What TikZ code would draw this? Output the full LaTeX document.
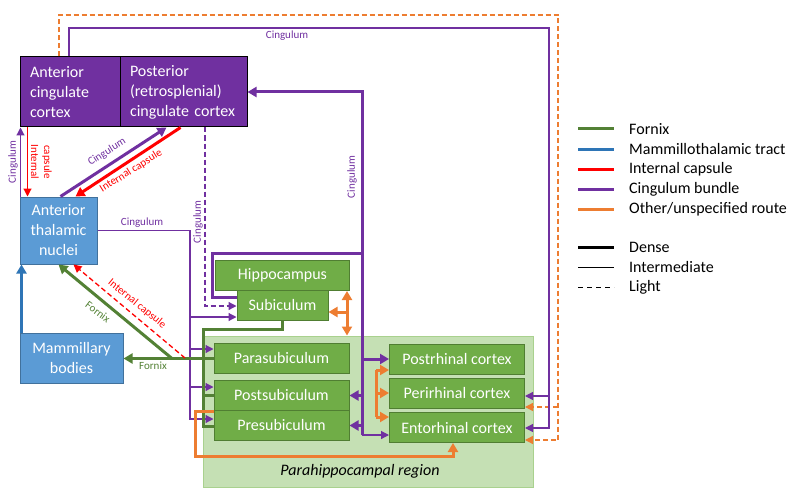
\documentclass[tikz,border=0pt]{standalone}
\usepackage{fontspec}
\setmainfont{Carlito}
\usetikzlibrary{arrows.meta}
\definecolor{cpurple}{HTML}{7030A0}
\definecolor{cblue}{HTML}{5B9BD5}
\definecolor{cblueborder}{HTML}{41719C}
\definecolor{cblueline}{HTML}{2E75B6}
\definecolor{cgreen}{HTML}{70AD47}
\definecolor{cgreenborder}{HTML}{507E32}
\definecolor{cgreenline}{HTML}{538135}
\definecolor{cred}{HTML}{FF0000}
\definecolor{corange}{HTML}{ED7D31}
\definecolor{cregion}{HTML}{C5E0B4}
\definecolor{cregionborder}{HTML}{A9D18E}

\begin{document}
\begin{tikzpicture}
	[x=1pt, y=-1pt,
	box/.style={draw, text=white, font=\fontsize{16}{20}\selectfont, inner sep=0pt, align=center, line width=1pt},
	purplebox/.style={box, fill=cpurple, draw=black, align=left, inner xsep=10pt, minimum height=70pt},
	bluebox/.style={box, fill=cblue, draw=cblueborder},
	greenbox/.style={box, fill=cgreen, draw=cgreenborder, minimum height=30pt},
	dense/.style={line width=3pt},
	medium/.style={line width=1.2pt},
	light/.style={line width=1.3pt, dash pattern=on 5pt off 3pt},
	arrowhd/.style={-{Triangle[length=8pt,width=8pt]}},
	bigarrowhd/.style={-{Triangle[length=9pt,width=10pt]}},
	lbl/.style={font=\fontsize{11}{13}\selectfont, inner sep=1pt},
	keytext/.style={anchor=west, font=\fontsize{16}{20}\selectfont, inner sep=0pt}]
	\useasboundingbox (0,0) rectangle (800,500);
	\node (phr) [fill=cregion, draw=cregionborder, line width=1pt, minimum width=330pt, minimum height=151pt] at (368,411.5) {};
	\node (phrlbl) at (360,471) {\fontsize{16}{20}\selectfont\itshape Parahippocampal region};
	\node (acc) [purplebox, text width=80pt] at (70,92) {Anterior\\cingulate\\cortex};
	\node (pcc) [purplebox, text width=107pt] at (183.5,92) {Posterior\\(retrosplenial)\\cingulate cortex};
	\node (atn) [bluebox, minimum width=77pt, minimum height=67pt] at (58.5,230.5) {Anterior\\thalamic\\nuclei};
	\node (mb) [bluebox, minimum width=103pt, minimum height=50pt] at (71.5,358) {Mammillary\\bodies};
	\node (hip) [greenbox, minimum width=134pt] at (282.5,275.5) {Hippocampus};
	\node (sub) [greenbox, minimum width=91pt] at (282.5,305) {Subiculum};
	\node (para) [greenbox, minimum width=135pt] at (281.5,358.5) {Parasubiculum};
	\node (post) [greenbox, minimum width=135pt] at (281.5,395.5) {Postsubiculum};
	\node (pre) [greenbox, minimum width=135pt] at (281.5,425.5) {Presubiculum};
	\node (pos) [greenbox, minimum width=135pt] at (457,359) {Postrhinal cortex};
	\node (peri) [greenbox, minimum width=135pt] at (457,393) {Perirhinal cortex};
	\node (ent) [greenbox, minimum width=135pt] at (457,427.5) {Entorhinal cortex};

	\coordinate (oTL) at (59,15);
	\coordinate (oTR) at (558,15);
	\coordinate (oPeri) at (558,407);
	\coordinate (oEnt) at (558,440);
	\draw [corange, light, arrowhd] (acc.north -| oTL) -- (oTL) -- (oTR) -- (oEnt) -- (oEnt -| ent.east);
	\draw [corange, light, arrowhd] (oPeri) -- (oPeri -| peri.east);
	\coordinate (cTL) at (69,28);
	\coordinate (cTR) at (549,28);
	\coordinate (cPeri) at (549,396);
	\coordinate (cEnt) at (549,428);
	\draw [cpurple, medium, arrowhd] (acc.north -| cTL) -- (cTL) -- (cTR) -- (cEnt) -- (cEnt -| ent.east);
	\draw [cpurple, medium, arrowhd] (cPeri) -- (cPeri -| peri.east);
	\node (lblTop) [lbl, text=cpurple] at (287,36) {Cingulum};

	\coordinate (sTop) at (362,92);
	\coordinate (sMid) at (362,253);
	\coordinate (sHip) at (212,253);
	\coordinate (sHipB) at (212,297);
	\coordinate (sBot) at (362,435);
	\draw [cpurple, dense, bigarrowhd] (sHipB -| sub.west) -- (sHipB) -- (sHip) -- (sMid) -- (sTop) -- (sTop -| pcc.east);
	\draw [cpurple, dense] (sMid) -- (sBot);
	\draw [cpurple, medium, arrowhd] (sBot) -- (sBot -| ent.west);
	\draw [cpurple, dense, bigarrowhd] (sBot |- pos.west) -- (pos.west);
	\draw [cpurple, dense, bigarrowhd] (sBot |- post.east) -- (post.east);
	\draw [cpurple, dense, bigarrowhd] (sBot |- pre.east) -- (pre.east);
	\node (lblSub) [lbl, text=cpurple, rotate=90] at (352,177) {Cingulum};

	\coordinate (dA) at (205,306);
	\draw [cpurple, light, arrowhd] (pcc.south -| dA) -- (dA) -- (dA -| sub.west);
	\node (lblDash) [lbl, text=cpurple, rotate=90] at (198,222) {Cingulum};

	\coordinate (tSub) at (190,317);
	\coordinate (tPara) at (190,349);
	\coordinate (tPost) at (190,387);
	\coordinate (tPre) at (190,419);
	\draw [cpurple, medium, arrowhd] (atn.east) -- (atn.east -| tSub) -- (tSub) -- (tSub -| sub.west);
	\draw [cpurple, medium, arrowhd] (tSub) -- (tPre) -- (tPre -| pre.west);
	\draw [cpurple, medium, arrowhd] (tPara) -- (tPara -| para.west);
	\draw [cpurple, medium, arrowhd] (tPost) -- (tPost -| post.west);
	\node (lblAtn) [lbl, text=cpurple] at (142,223) {Cingulum};

	\draw [cpurple, medium, arrowhd] ([xshift=1pt]atn.north west) -- ([xshift=1pt]acc.south west);
	\draw [cred, medium, arrowhd] ([xshift=8pt]acc.south west) -- ([xshift=8pt]atn.north west);
	\node (lblCl) [lbl, text=cpurple, rotate=90] at (13,162) {Cingulum};
	\node (lblIc1) [lbl, text=cred, rotate=-90] at (35,162) {Internal};
	\node (lblIc2) [lbl, text=cred, rotate=-90] at (47,162) {capsule};

	\draw [cpurple, dense, bigarrowhd] ([xshift=2pt]atn.north) -- ([xshift=-17pt]pcc.south);
	\draw [cred, dense, bigarrowhd] ([xshift=-3pt]pcc.south) -- ([xshift=17pt]atn.north);
	\node (lblAp) [lbl, text=cpurple, rotate=32] at (107,152) {Cingulum};
	\node (lblAr) [lbl, text=cred, rotate=32] at (131,171) {Internal capsule};

	\draw [cblueline, dense, bigarrowhd] ([xshift=2pt]mb.north west) -- ([xshift=2pt]atn.south west);

	\coordinate (fB) at (203,329);
	\coordinate (fC) at (203,426);
	\coordinate (fJ) at (172,358.5);
	\draw [cgreenline, dense] (sub.south) -- (sub.south |- fB) -- (fB) -- (fC) -- (fC -| pre.west);
	\draw [cgreenline, dense] (fB |- post.west) -- (post.west);
	\draw [cgreenline, dense, bigarrowhd] (para.west) -- (fJ) -- (fJ -| mb.east);
	\draw [cgreenline, dense, bigarrowhd] (fJ) -- (atn.south);
	\node (lblF1) [lbl, text=cgreenline, rotate=-37] at (98,312) {Fornix};
	\node (lblF2) [lbl, text=cgreenline] at (153,366) {Fornix};

	\coordinate (rA) at (185,358);
	\draw [cred, light, arrowhd] (rA) -- ([xshift=15pt]atn.south);
	\node (lblRd) [lbl, text=cred, rotate=-39] at (137,304) {Internal capsule};

	\coordinate (oV) at (347,312);
	\draw [corange, dense, {Triangle[length=9pt,width=10pt]}-{Triangle[length=9pt,width=10pt]}] (hip.south -| oV) -- (oV |- phr.north);
	\draw [corange, dense, bigarrowhd] (oV) -- (oV -| sub.east);
	\coordinate (oB1) at (376,370);
	\coordinate (oB3) at (376,417);
	\draw [corange, dense] (oB1) -- (oB3);
	\draw [corange, dense, bigarrowhd] (oB1) -- (oB1 -| pos.west);
	\draw [corange, dense, bigarrowhd] (oB1 |- peri.west) -- (peri.west);
	\draw [corange, dense, bigarrowhd] (oB3) -- (oB3 -| ent.west);
	\coordinate (oL1) at (195,409);
	\coordinate (oL2) at (195,456);
	\coordinate (oL3) at (453,456);
	\draw [corange, dense, bigarrowhd] (post.south west) -- (post.south west -| oL1) -- (oL2) -- (oL3) -- (oL3 |- ent.south);

	\draw [cgreenline, line width=3pt] (578,129) -- (614,129);
	\draw [cblueline, line width=3pt] (578,149) -- (614,149);
	\draw [cred, line width=3pt] (578,169) -- (614,169);
	\draw [cpurple, line width=3pt] (578,189) -- (614,189);
	\draw [corange, line width=3pt] (578,209) -- (614,209);
	\draw [black, line width=3pt] (578,247) -- (614,247);
	\draw [black, line width=1pt] (578,267) -- (614,267);
	\draw [black, line width=1pt, dash pattern=on 5pt off 4pt] (578,287) -- (614,287);
	\node (kFornix) [keytext] at (629,129) {Fornix};
	\node (kMamm) [keytext] at (629,149) {Mammillothalamic tract};
	\node (kIc) [keytext] at (629,169) {Internal capsule};
	\node (kCing) [keytext] at (629,189) {Cingulum bundle};
	\node (kOther) [keytext] at (629,209) {Other/unspecified route};
	\node (kDense) [keytext] at (629,247) {Dense};
	\node (kInter) [keytext] at (629,267) {Intermediate};
	\node (kLight) [keytext] at (629,287) {Light};
\end{tikzpicture}
\end{document}
